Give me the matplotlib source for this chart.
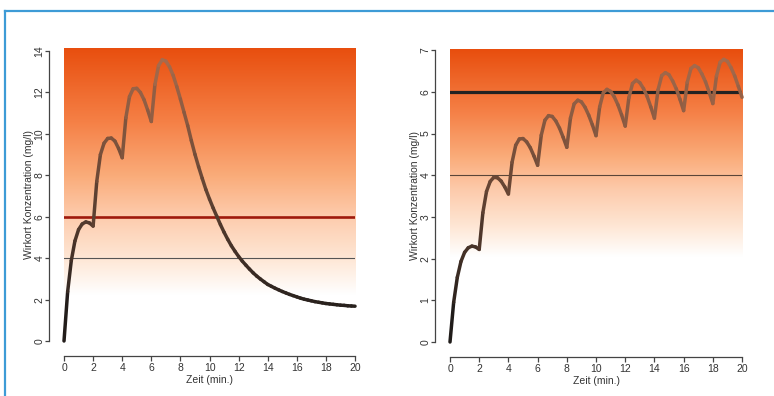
import matplotlib
matplotlib.use("Agg")
import matplotlib.pyplot as plt
import numpy as np
from matplotlib.collections import LineCollection
from matplotlib.colors import LinearSegmentedColormap
from matplotlib.lines import Line2D

plt.rcParams["font.family"] = ["Liberation Sans", "DejaVu Sans"]

# time grid (min), one value every 0.25 min
t = np.arange(0, 20.001, 0.25)

# left panel: 4 doses, then washout
left_conc = [
    0.00, 2.38, 3.88, 4.83, 5.38, 5.65, 5.75, 5.70,
    5.55, 7.70, 9.00, 9.55, 9.78, 9.80, 9.65, 9.30,
    8.85, 10.78, 11.80, 12.18, 12.20, 12.00, 11.65, 11.15,
    10.60, 12.39, 13.30, 13.58, 13.51, 13.24, 12.83, 12.28,
    11.68, 11.04, 10.40, 9.68, 9.01, 8.41, 7.85, 7.31,
    6.85, 6.42, 6.02, 5.62, 5.25, 4.91, 4.60, 4.33,
    4.08, 3.86, 3.66, 3.47, 3.29, 3.13, 2.99, 2.86,
    2.73, 2.64, 2.55, 2.47, 2.39, 2.32, 2.25, 2.19,
    2.13, 2.07, 2.02, 1.98, 1.94, 1.90, 1.87, 1.84,
    1.81, 1.79, 1.77, 1.75, 1.73, 1.72, 1.70, 1.69,
    1.68,
]

# right panel: smaller doses every 2 min
right_conc = [
    0.00, 0.95, 1.55, 1.93, 2.15, 2.26, 2.30, 2.28,
    2.22, 3.10, 3.61, 3.85, 3.95, 3.94, 3.86, 3.72,
    3.55, 4.31, 4.72, 4.87, 4.88, 4.80, 4.66, 4.46,
    4.24, 4.96, 5.32, 5.43, 5.41, 5.30, 5.13, 4.91,
    4.67, 5.37, 5.71, 5.80, 5.76, 5.63, 5.44, 5.21,
    4.95, 5.64, 5.98, 6.06, 6.01, 5.88, 5.69, 5.45,
    5.18, 5.86, 6.20, 6.28, 6.22, 6.08, 5.89, 5.64,
    5.37, 6.05, 6.39, 6.46, 6.41, 6.26, 6.07, 5.82,
    5.55, 6.23, 6.56, 6.63, 6.58, 6.43, 6.24, 5.99,
    5.72, 6.38, 6.71, 6.78, 6.73, 6.58, 6.38, 6.13,
    5.87,
]

left_yticks = [0, 2, 4, 6, 8, 10, 12, 14]
right_yticks = [0, 1, 2, 3, 4, 5, 6, 7]
xticks = [0, 2, 4, 6, 8, 10, 12, 14, 16, 18, 20]

# white -> orange band, blue channel drops faster than red/green
BAND_CMAP = LinearSegmentedColormap.from_list("band", [
    (0.00, "#ffffff"),
    (0.15, "#fee6d4"),
    (0.32, "#fdcbac"),
    (0.48, "#faac7a"),
    (0.70, "#f58046"),
    (1.00, "#e84e0e"),
])
CURVE_LOW = np.array([22, 22, 22]) / 255
CURVE_HIGH = np.array([172, 110, 78]) / 255
AXIS_COLOR = "#444444"
TEXT_COLOR = "#333333"
BORDER_BLUE = "#3d9bd6"


def gradient_band(ax, y0, y1):
    f = np.linspace(1, 0, 256)[:, None]
    ax.imshow(f, cmap=BAND_CMAP, vmin=0, vmax=1, extent=[0, 20, y0, y1],
              aspect="auto", zorder=0, interpolation="bicubic")


def curve(ax, x, y, ymax):
    x = np.asarray(x, float)
    y = np.asarray(y, float)
    pts = np.column_stack([x, y]).reshape(-1, 1, 2)
    segs = np.concatenate([pts[:-1], pts[1:]], axis=1)
    frac = np.clip((y[:-1] + y[1:]) / 2 / ymax, 0, 1)[:, None]
    cols = CURVE_LOW + frac * (CURVE_HIGH - CURVE_LOW)
    lc = LineCollection(segs, colors=cols, linewidths=2.5, zorder=4,
                        capstyle="round", joinstyle="round")
    lc.set_clip_on(False)
    ax.add_collection(lc)


def style_axes(ax, yticks, ytop):
    ax.set_xlim(0, 20)
    ax.set_ylim(0, ytop)
    for s in ["top", "right"]:
        ax.spines[s].set_visible(False)
    ax.spines["left"].set_position(("outward", 11))
    ax.spines["bottom"].set_position(("outward", 11))
    ax.spines["left"].set_bounds(yticks[0], yticks[-1])
    ax.spines["bottom"].set_bounds(0, 20)
    for s in ["left", "bottom"]:
        ax.spines[s].set_color(AXIS_COLOR)
        ax.spines[s].set_linewidth(0.9)
    ax.set_xticks(xticks)
    ax.set_yticks(yticks)
    ax.set_yticklabels([str(v) for v in yticks], rotation=90, va="center")
    ax.tick_params(axis="y", length=3.2, width=0.9, color=AXIS_COLOR,
                   labelsize=7.5, labelcolor=TEXT_COLOR, pad=0)
    ax.tick_params(axis="x", length=3.5, width=0.9, color=AXIS_COLOR,
                   labelsize=7.5, labelcolor=TEXT_COLOR, pad=1)
    ax.set_xlabel("Zeit (min.)", fontsize=7.5, color=TEXT_COLOR, labelpad=1.5)
    ax.set_ylabel("Wirkort Konzentration (mg/l)", fontsize=7.5,
                  color=TEXT_COLOR, labelpad=0.5)
    ax.set_facecolor("none")


fig = plt.figure(figsize=(7.74, 3.96), dpi=100)

ax1 = fig.add_axes([0.0827, 0.1389, 0.376, 0.740])
gradient_band(ax1, 2.2, 14.15)
ax1.plot([0, 20], [6, 6], color="#9e1a0c", lw=1.9, zorder=2)
ax1.plot([0, 20], [4, 4], color="#555555", lw=0.8, zorder=2)
curve(ax1, t, left_conc, 14)
style_axes(ax1, left_yticks, 14.15)

ax2 = fig.add_axes([0.5814, 0.1364, 0.3773, 0.739])
gradient_band(ax2, 2.05, 7.02)
ax2.plot([0, 20], [4, 4], color="#5a4538", lw=0.8, zorder=2)
ax2.plot([0, 20], [6, 6], color="#222222", lw=2.3, zorder=3)
curve(ax2, t, right_conc, 7)
style_axes(ax2, right_yticks, 7.02)

# blue frame lines (top and left)
fig.add_artist(Line2D([5 / 774, 1], [1 - 11 / 396, 1 - 11 / 396],
                      color=BORDER_BLUE, lw=1.6))
fig.add_artist(Line2D([5 / 774, 5 / 774], [0, 1 - 11 / 396],
                      color=BORDER_BLUE, lw=1.6))

fig.savefig("out.png", dpi=100)
